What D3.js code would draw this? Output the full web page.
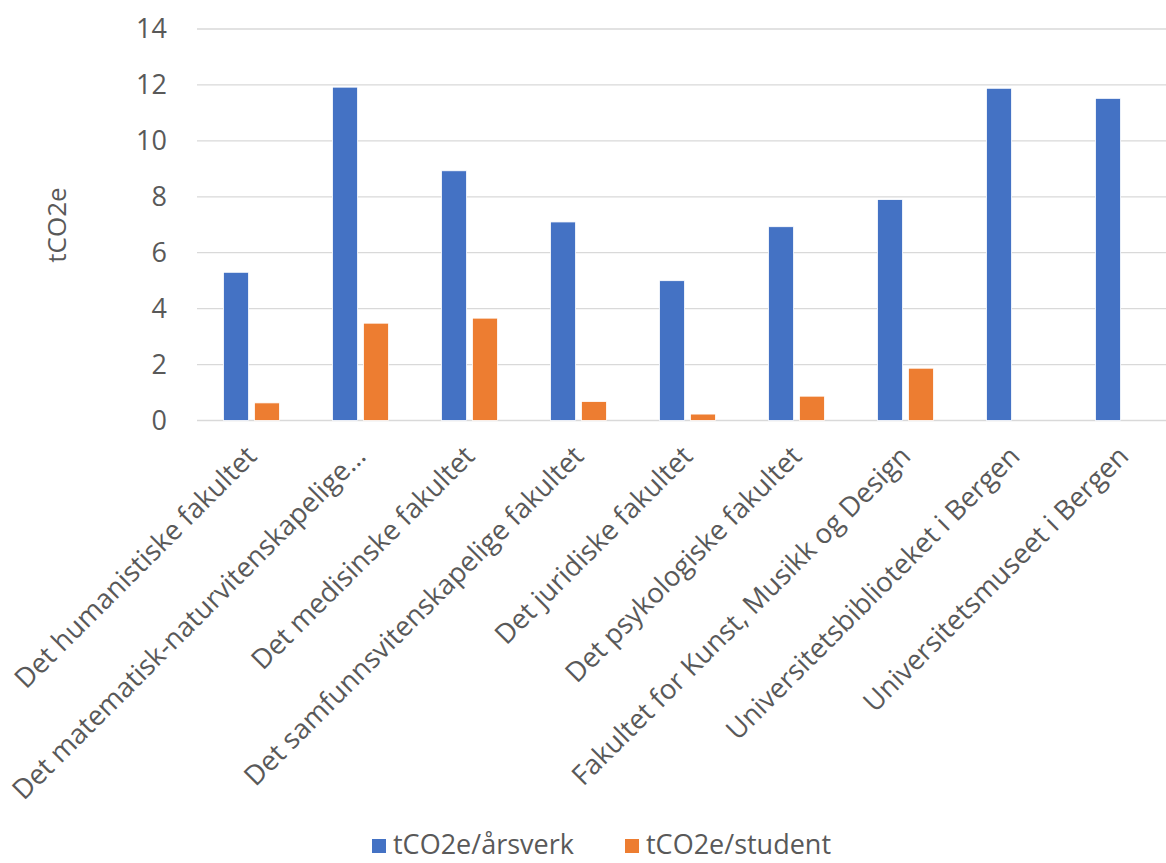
<!DOCTYPE html>
<html>
<head>
<meta charset="utf-8">
<script src="https://cdn.jsdelivr.net/npm/d3@7"></script>
<style>
  html, body { margin: 0; padding: 0; background: #fff; }
  svg { display: block; font-family: "Open Sans", sans-serif; }
</style>
</head>
<body>
<div id="vis"></div>
<script>
// Kategorier (enheter) og verdier lest av figuren
const categories = [
    "Det humanistiske fakultet",
    "Det matematisk-naturvitenskapelige…",
    "Det medisinske fakultet",
    "Det samfunnsvitenskapelige fakultet",
    "Det juridiske fakultet",
    "Det psykologiske fakultet",
    "Fakultet for Kunst, Musikk og Design",
    "Universitetsbiblioteket i Bergen",
    "Universitetsmuseet i Bergen"
];
const seriesNames = ["tCO2e/årsverk", "tCO2e/student"];
const perArsverk = [5.3, 11.92, 8.93, 7.1, 5.0, 6.93, 7.9, 11.88, 11.52];
const perStudent = [0.63, 3.48, 3.66, 0.68, 0.23, 0.87, 1.87, 0, 0];
const yTicks = [0, 2, 4, 6, 8, 10, 12, 14];

const W = 1166, H = 863;
const textColor = "#595959";
const colors = ["#4472C4", "#ED7D31"];

const data = categories.map((c, i) => ({ category: c, values: [perArsverk[i], perStudent[i]] }));

const svg = d3.select("#vis").append("svg")
    .attr("width", W)
    .attr("height", H);

const x0 = d3.scaleBand()
    .domain(categories)
    .range([197, 1178])
    .paddingInner(0.486)
    .paddingOuter(0.243);

const x1 = d3.scaleBand()
    .domain(seriesNames)
    .range([0, x0.bandwidth()])
    .paddingInner(0.19);

const y = d3.scaleLinear()
    .domain([0, 14])
    .range([420.5, 29]);

// Rutenett
svg.append("g")
    .selectAll("line")
    .data(yTicks)
    .enter()
    .append("line")
    .attr("x1", 197)
    .attr("x2", 1178)
    .attr("y1", d => y(d))
    .attr("y2", d => y(d))
    .attr("stroke", "#d9d9d9")
    .attr("stroke-width", 1.3);

// Y-akse
const yAxis = svg.append("g")
    .attr("transform", "translate(197,0)")
    .call(d3.axisLeft(y).tickValues(yTicks).tickSize(0).tickPadding(30));
yAxis.select(".domain").remove();
yAxis.selectAll("text")
    .attr("fill", textColor)
    .style("font-size", "27px")
    .style("font-family", "Open Sans, sans-serif");

svg.append("text")
    .attr("transform", "translate(66,225) rotate(-90)")
    .attr("text-anchor", "middle")
    .attr("fill", textColor)
    .style("font-size", "26px")
    .text("tCO2e");

// Stolper
svg.append("g")
    .selectAll("g")
    .data(data)
    .enter()
    .append("g")
    .attr("transform", d => `translate(${x0(d.category)},0)`)
    .selectAll("rect")
    .data(d => d.values.map((v, j) => ({ series: seriesNames[j], value: v, j: j })))
    .enter()
    .append("rect")
    .filter(d => d.value > 0)
    .attr("x", d => x1(d.series))
    .attr("y", d => y(d.value))
    .attr("width", x1.bandwidth())
    .attr("height", d => y(0) - y(d.value))
    .attr("fill", d => colors[d.j])
    .attr("stroke", "#fff")
    .attr("stroke-width", 0.8);

// X-etiketter (rotert)
svg.append("g")
    .selectAll("text")
    .data(categories)
    .enter()
    .append("text")
    .attr("transform", d => `translate(${x0(d) + x0.bandwidth() / 2},451) rotate(-45)`)
    .attr("text-anchor", "end")
    .attr("dy", "0.35em")
    .attr("fill", textColor)
    .style("font-size", "27.5px")
    .text(d => d);

// Forklaring
const legend = svg.append("g");
const legendX = [372, 625];
seriesNames.forEach((s, i) => {
    legend.append("rect")
        .attr("x", legendX[i])
        .attr("y", 839)
        .attr("width", 14)
        .attr("height", 14)
        .attr("fill", colors[i]);
    legend.append("text")
        .attr("x", legendX[i] + 21)
        .attr("y", 845)
        .attr("dy", "0.35em")
        .attr("fill", textColor)
        .style("font-size", "27px")
        .text(s);
});
</script>
</body>
</html>
